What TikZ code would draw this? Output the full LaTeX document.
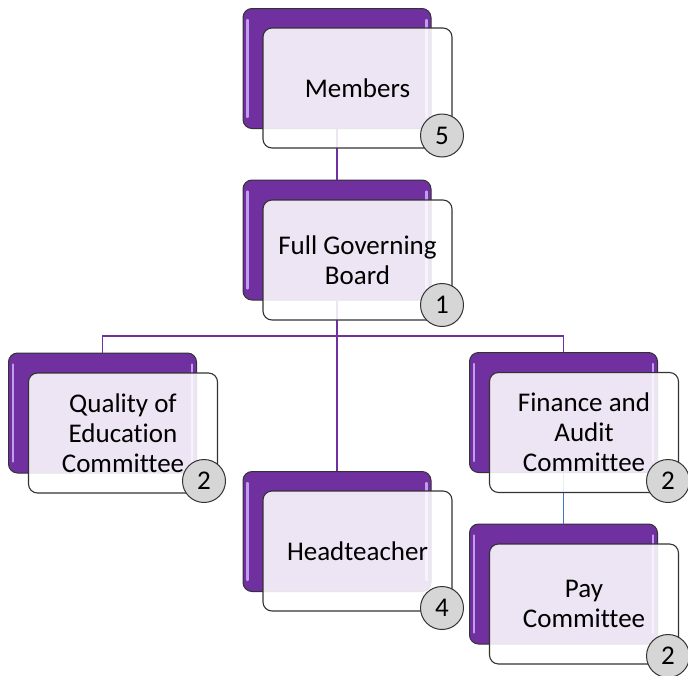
\documentclass[tikz,border=0pt]{standalone}
\usepackage{fontspec}
\setmainfont{Carlito}[Ligatures=NoCommon]
\definecolor{purp}{HTML}{7030A0}
\definecolor{purphi}{HTML}{C29CF0}
\definecolor{paylink}{HTML}{4472C4}
\definecolor{edge}{HTML}{333333}
\tikzset{
  backbox/.style={draw=edge, fill=purp, rounded corners=9pt, minimum width=188pt, minimum height=120pt, line width=1pt, inner sep=0pt},
  frontbox/.style={draw=edge, fill=white, fill opacity=0.88, text opacity=1, rounded corners=9pt, minimum width=189pt, minimum height=120pt, line width=1.1pt, align=center, inner sep=0pt, font=\fontsize{27}{30}\selectfont, text=black},
  count/.style={circle, draw=edge, fill=black!16, minimum size=43pt, inner sep=0pt, font=\fontsize{27}{30}\selectfont, text=black, line width=1pt},
  link/.style={draw=purp, line width=1.6pt},
  bluelink/.style={draw=paylink, line width=1.6pt},
  gloss/.style={draw=purphi, line width=2.4pt, line cap=round},
}
\begin{document}
\begin{tikzpicture}[x=1pt,y=-1pt]
\useasboundingbox (0,0) rectangle (688,675);
% back (purple) boxes
\node[backbox] (mem-b)  at (337,68.5) {};
\node[backbox] (fgb-b)  at (337,240) {};
\node[backbox] (qual-b) at (102.5,413) {};
\node[backbox] (head-b) at (337,531.5) {};
\node[backbox] (fin-b)  at (563.5,412.5) {};
\node[backbox] (pay-b)  at (563.5,584) {};
% gloss highlights
\foreach \b in {mem-b,fgb-b,qual-b,head-b,fin-b,pay-b}{
  \draw[gloss] ([xshift=5pt,yshift=-12pt]\b.north west) -- ([xshift=5pt,yshift=12pt]\b.south west);
  \draw[gloss] ([xshift=-5pt,yshift=-12pt]\b.north east) -- ([xshift=-5pt,yshift=12pt]\b.south east);
}
% connectors
\coordinate (hub) at (337,336);
\draw[link] (mem-b.south) -- (fgb-b.north);
\draw[link] (fgb-b.south) -- (head-b.north);
\draw[link] (qual-b.north) -- (qual-b.north |- hub) -- (fin-b.north |- hub) -- (fin-b.north);
\draw[bluelink] (fin-b.south) -- (pay-b.north);
% front boxes
\node[frontbox] (mem)  at (357.5,88) {Members};
\node[frontbox] (fgb)  at (357.5,260) {Full Governing\\Board};
\node[frontbox] (qual) at (123,433) {Quality of\\Education\\Committee};
\node[frontbox] (head) at (357.5,551) {Headteacher};
\node[frontbox] (fin)  at (584,432.5) {Finance and\\Audit\\Committee};
\node[frontbox] (pay)  at (584,604) {Pay\\Committee};
% count circles
\node[count] (mem-n)  at (442,135.5) {5};
\node[count] (fgb-n)  at (442,305) {1};
\node[count] (qual-n) at (204,481) {2};
\node[count] (head-n) at (442,608) {4};
\node[count] (fin-n)  at (668,481) {2};
\node[count] (pay-n)  at (668,656) {2};
\end{tikzpicture}
\end{document}
